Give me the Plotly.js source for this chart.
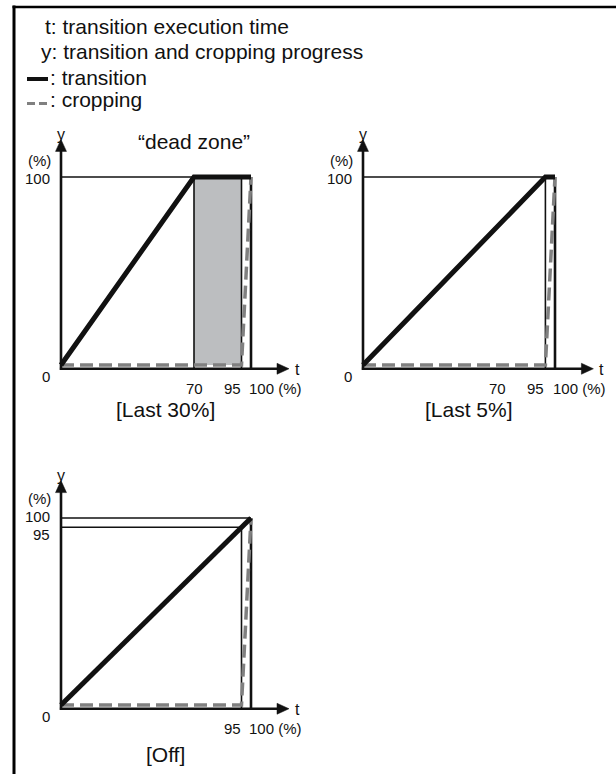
<!DOCTYPE html>
<html>
<head>
<meta charset="utf-8">
<script src="https://cdn.plot.ly/plotly-3.0.1.min.js"></script>
<style>html,body{margin:0;padding:0;background:#fff;}</style>
</head>
<body>
<div id="chart" style="width:616px;height:774px;"></div>
<script>
// ---------------- DATA ----------------
// Panel 1: [Last 30%]
const last30TransitionT = [0, 70, 100];
const last30TransitionY = [0, 100, 100];
const last30CroppingT = [0, 95, 100];
const last30CroppingY = [0, 0, 100];
const last30DeadZoneT = [70, 95];
const last30TickT = [70, 95, 100];
const last30TickText = ['70', '95', '100 (%)'];
const last30GuideT = [70, 95, 100];
const last30TickY = [0, 100];
const last30Caption = '[Last 30%]';

// Panel 2: [Last 5%]
const last5TransitionT = [0, 95, 100];
const last5TransitionY = [0, 100, 100];
const last5CroppingT = [0, 95, 100];
const last5CroppingY = [0, 0, 100];
const last5TickT = [70, 95, 100];
const last5TickText = ['70', '95', '100 (%)'];
const last5GuideT = [95, 100];
const last5TickY = [0, 100];
const last5Caption = '[Last 5%]';

// Panel 3: [Off]
const offTransitionT = [0, 100];
const offTransitionY = [0, 100];
const offCroppingT = [0, 95, 100];
const offCroppingY = [0, 0, 100];
const offTickT = [95, 100];
const offTickText = ['95', '100 (%)'];
const offGuideT = [95, 100];
const offTickY = [0, 95, 100];
const offCaption = '[Off]';

const legendLines = ['t: transition execution time', 'y: transition and cropping progress'];
const seriesNames = ['transition', 'cropping'];
const deadZoneLabel = '\u201Cdead zone\u201D';

// ---------------- LAYOUT ----------------
const W = 616, H = 774;
const FONT = '"Liberation Sans", Arial, Helvetica, sans-serif';
const INK = '#111111';
const GREY = '#808080';
const SHADE = '#bcbec0';
const TIP = 120;      // arrow tip position (axis units)
const AXY = -2;       // x axis drawn slightly below zero

function interp(ts, ys, t) {
  for (let i = 0; i < ts.length - 1; i++) {
    if (t >= ts[i] && t <= ts[i + 1]) {
      return ys[i] + (ys[i + 1] - ys[i]) * (t - ts[i]) / (ts[i + 1] - ts[i]);
    }
  }
  return ys[ys.length - 1];
}
function firstT(ts, ys, y) {
  for (let i = 0; i < ts.length - 1; i++) {
    if (y >= ys[i] && y <= ys[i + 1] && ys[i + 1] !== ys[i]) {
      return ts[i] + (ts[i + 1] - ts[i]) * (y - ys[i]) / (ys[i + 1] - ys[i]);
    }
  }
  return ts[ts.length - 1];
}

const panels = [
  {ax: '', ox: 61, oy: 365, sx: 1.9, sy: 1.88, l: 41, r: 311, t: 125, b: 395,
   tT: last30TransitionT, tY: last30TransitionY, cT: last30CroppingT, cY: last30CroppingY,
   ticksT: last30TickT, ticksText: last30TickText, guides: last30GuideT, ticksY: last30TickY,
   dead: last30DeadZoneT, caption: last30Caption, capY: 409,
   yShift: {0: -8, 100: -1}, pctShift: 17},
  {ax: '2', ox: 363, oy: 365, sx: 1.92, sy: 1.88, l: 343, r: 613, t: 125, b: 395,
   tT: last5TransitionT, tY: last5TransitionY, cT: last5CroppingT, cY: last5CroppingY,
   ticksT: last5TickT, ticksText: last5TickText, guides: last5GuideT, ticksY: last5TickY,
   dead: null, caption: last5Caption, capY: 409,
   yShift: {0: -8, 100: -1}, pctShift: 17},
  {ax: '3', ox: 61, oy: 705, sx: 1.9, sy: 1.87, l: 41, r: 311, t: 465, b: 735,
   tT: offTransitionT, tY: offTransitionY, cT: offCroppingT, cY: offCroppingY,
   ticksT: offTickT, ticksText: offTickText, guides: offGuideT, ticksY: offTickY,
   dead: null, caption: offCaption, capY: 754,
   yShift: {0: -8, 95: -7, 100: 2}, pctShift: 20}
];

const layout = {
  width: W, height: H,
  margin: {l: 0, r: 0, t: 0, b: 0, pad: 0},
  paper_bgcolor: '#ffffff', plot_bgcolor: 'rgba(0,0,0,0)',
  showlegend: false,
  font: {family: FONT, color: INK, size: 15},
  shapes: [], annotations: []
};
const traces = [];

panels.forEach(p => {
  const xa = 'xaxis' + p.ax, ya = 'yaxis' + p.ax;
  const xr = 'x' + p.ax, yr = 'y' + p.ax;
  layout[xa] = {domain: [p.l / W, p.r / W], range: [(p.l - p.ox) / p.sx, (p.r - p.ox) / p.sx],
                visible: false, fixedrange: true, anchor: yr};
  layout[ya] = {domain: [1 - p.b / H, 1 - p.t / H], range: [(p.oy - p.b) / p.sy, (p.oy - p.t) / p.sy],
                visible: false, fixedrange: true, anchor: xr};

  // dead zone
  if (p.dead) {
    layout.shapes.push({type: 'rect', xref: xr, yref: yr, x0: p.dead[0], x1: p.dead[1],
      y0: 0, y1: Math.max(...p.tY), fillcolor: SHADE, line: {width: 0}, layer: 'below'});
  }
  // vertical guides
  p.guides.forEach(g => {
    const top = interp(p.tT, p.tY, g);
    layout.shapes.push({type: 'line', xref: xr, yref: yr, x0: g, x1: g, y0: AXY, y1: top,
      line: {color: INK, width: g === 100 ? 2.6 : 1.6}, layer: 'below'});
  });
  // horizontal guides
  p.ticksY.filter(v => v > 0).forEach(v => {
    const xe = firstT(p.tT, p.tY, v);
    layout.shapes.push({type: 'line', xref: xr, yref: yr, x0: 0, x1: xe, y0: v, y1: v,
      line: {color: INK, width: 1.5}, layer: 'below'});
  });
  // axes
  layout.shapes.push({type: 'line', xref: xr, yref: yr, x0: -0.6, x1: TIP - 4, y0: AXY, y1: AXY,
    line: {color: INK, width: 2.6}});
  layout.shapes.push({type: 'line', xref: xr, yref: yr, x0: 0, x1: 0, y0: AXY - 0.6, y1: TIP - 4,
    line: {color: INK, width: 2.6}});
  layout.shapes.push({type: 'path', xref: xr, yref: yr, xsizemode: 'pixel', ysizemode: 'pixel',
    xanchor: TIP, yanchor: AXY, path: 'M0,0 L-12,5.5 L-12,-5.5 Z',
    fillcolor: INK, line: {color: INK, width: 0.5}});
  layout.shapes.push({type: 'path', xref: xr, yref: yr, xsizemode: 'pixel', ysizemode: 'pixel',
    xanchor: 0, yanchor: TIP, path: 'M0,0 L-5.5,-12 L5.5,-12 Z',
    fillcolor: INK, line: {color: INK, width: 0.5}});

  // traces
  traces.push({type: 'scatter', mode: 'lines', x: p.cT, y: p.cY, xaxis: xr, yaxis: yr,
    name: seriesNames[1], line: {color: GREY, width: 3.5, dash: '13px,6px'}, hoverinfo: 'skip'});
  traces.push({type: 'scatter', mode: 'lines', x: p.tT, y: p.tY, xaxis: xr, yaxis: yr,
    name: seriesNames[0], line: {color: INK, width: 5}, hoverinfo: 'skip'});

  const ann = (o) => layout.annotations.push(Object.assign({xref: xr, yref: yr, showarrow: false,
    font: {family: FONT, size: 15, color: INK}}, o));

  // axis names
  ann({x: 0, y: TIP, text: 'y', xanchor: 'center', yanchor: 'middle', yshift: 5, font: {family: FONT, size: 16, color: INK}});
  ann({x: TIP, y: AXY, text: 't', xanchor: 'left', yanchor: 'middle', xshift: 4, yshift: -1, font: {family: FONT, size: 16, color: INK}});
  ann({x: 0, y: 100, text: '(%)', xanchor: 'right', yanchor: 'middle', xshift: -8, yshift: p.pctShift});
  // y ticks
  p.ticksY.forEach(v => {
    ann({x: 0, y: v === 0 ? AXY : v, text: String(v), xanchor: 'right', yanchor: 'middle',
      xshift: -9, yshift: p.yShift[v] || 0});
  });
  // x ticks
  p.ticksT.forEach((t, i) => {
    const txt = p.ticksText[i];
    let xanchor = 'center', xshift = 0;
    if (t === 100) { xanchor = 'left'; xshift = -4; }
    else if (t === 95) { xanchor = 'right'; xshift = 1; }
    ann({x: t, y: AXY, text: txt, xanchor: xanchor, yanchor: 'middle', xshift: xshift, yshift: -20});
  });
  // caption
  ann({x: 55, y: AXY, text: p.caption, xanchor: 'center', yanchor: 'middle',
    yshift: -(p.capY - (p.oy - AXY * p.sy)), font: {family: FONT, size: 21, color: INK}});
  if (p.dead) {
    ann({x: p.dead[0], y: 100, text: deadZoneLabel, xanchor: 'center', yanchor: 'middle', yshift: 36,
      font: {family: FONT, size: 21, color: INK}});
  }
});

// Legend block (top-left)
const pa = (o) => layout.annotations.push(Object.assign({xref: 'paper', yref: 'paper', showarrow: false,
  xanchor: 'left', yanchor: 'middle', font: {family: FONT, size: 21, color: INK}}, o));
pa({x: 43 / W, y: 1 - 27 / H, text: legendLines[0]});
pa({x: 39 / W, y: 1 - 51 / H, text: legendLines[1]});
pa({x: 48 / W, y: 1 - 77 / H, text: ': ' + seriesNames[0]});
pa({x: 48 / W, y: 1 - 100 / H, text: ': ' + seriesNames[1]});
layout.shapes.push({type: 'line', xref: 'paper', yref: 'paper', x0: 27 / W, x1: 48 / W,
  y0: 1 - 79 / H, y1: 1 - 79 / H, line: {color: INK, width: 4}});
layout.shapes.push({type: 'line', xref: 'paper', yref: 'paper', x0: 27 / W, x1: 48 / W,
  y0: 1 - 103.5 / H, y1: 1 - 103.5 / H, line: {color: GREY, width: 3, dash: '8px,4px'}});

// Frame (left and top border)
layout.shapes.push({type: 'line', xref: 'paper', yref: 'paper', x0: 14 / W, x1: 14 / W,
  y0: 0, y1: 1 - 5.5 / H, line: {color: '#000', width: 3}});
layout.shapes.push({type: 'line', xref: 'paper', yref: 'paper', x0: 12.5 / W, x1: 1,
  y0: 1 - 7 / H, y1: 1 - 7 / H, line: {color: '#000', width: 2.5}});

Plotly.newPlot('chart', traces, layout, {staticPlot: true, displayModeBar: false});
</script>
</body>
</html>
